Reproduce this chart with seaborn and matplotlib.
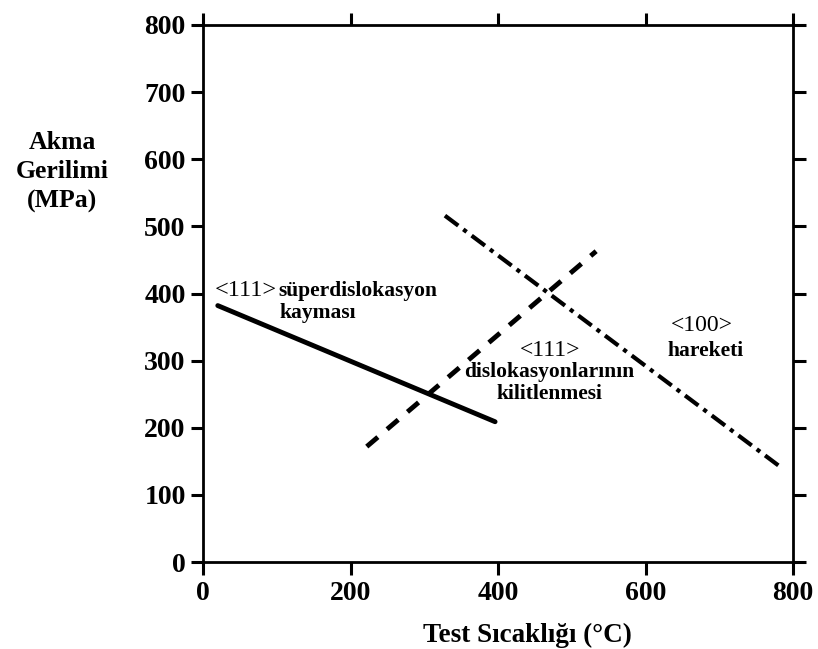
import pandas as pd
import seaborn as sns
import matplotlib.pyplot as plt

# line end points (temperature in C, stress in MPa)
slip_temp = [20, 396]
slip_stress = [382, 209]

lock_temp = [222, 533]
lock_stress = [172, 463]

cube_temp = [328, 780]
cube_stress = [516, 144]

ticks = [0, 200, 400, 600, 800]
yticks = [0, 100, 200, 300, 400, 500, 600, 700, 800]

sns.set_style('ticks')
plt.rcParams['font.family'] = ['Liberation Serif', 'DejaVu Serif']
plt.rcParams['text.color'] = 'black'
plt.rcParams['xtick.color'] = 'black'
plt.rcParams['ytick.color'] = 'black'
plt.rcParams['axes.edgecolor'] = 'black'
plt.rcParams['axes.labelcolor'] = 'black'

fig = plt.figure(figsize=(8.18, 6.49), dpi=100)
ax = fig.add_axes([0.2482, 0.134, 0.7213, 0.8275])

df_slip = pd.DataFrame({'T': slip_temp, 'S': slip_stress})
df_lock = pd.DataFrame({'T': lock_temp, 'S': lock_stress})
df_cube = pd.DataFrame({'T': cube_temp, 'S': cube_stress})

sns.lineplot(data=df_slip, x='T', y='S', ax=ax, color='black', linewidth=3.5)
sns.lineplot(data=df_lock, x='T', y='S', ax=ax, color='black', linewidth=3.5,
             linestyle=(0, (3, 2.5)))
sns.lineplot(data=df_cube, x='T', y='S', ax=ax, color='black', linewidth=3,
             linestyle=(0, (4, 1.5, 1, 1.5)))

ax.set_xlim(0, 800)
ax.set_ylim(0, 800)
ax.set_xticks(ticks)
ax.set_yticks(yticks)
ax.tick_params(axis='both', direction='out', length=9, width=2.2, labelsize=20,
               top=True, right=True, labeltop=False, labelright=False)
ax.tick_params(axis='x', pad=5)
for lab in ax.get_xticklabels() + ax.get_yticklabels():
    lab.set_fontweight('bold')
for sp in ax.spines.values():
    sp.set_visible(True)
    sp.set_linewidth(2)

ax.set_xlabel('Test Sıcaklığı (°C)', fontsize=19.5, fontweight='bold', labelpad=12, x=0.549)
ax.set_ylabel('')
fig.text(0.0758, 0.735, 'Akma\nGerilimi\n(MPa)', ha='center', va='center',
         fontsize=18.5, fontweight='bold', linespacing=1.35)

# region labels
fs = 15.5
ax.text(16, 404, '<111>', fontsize=17.5, va='center', ha='left')
ax.text(102, 404, 'süperdislokasyon', fontsize=fs, fontweight='bold', va='center', ha='left')
ax.text(104, 371, 'kayması', fontsize=fs, fontweight='bold', va='center', ha='left')

ax.text(470, 315, '<111>', fontsize=17, va='center', ha='center')
ax.text(470, 283, 'dislokasyonlarının', fontsize=fs, fontweight='bold', va='center', ha='center')
ax.text(470, 251, 'kilitlenmesi', fontsize=fs, fontweight='bold', va='center', ha='center')

ax.text(677, 352, '<100>', fontsize=17, va='center', ha='center')
ax.text(681, 315, 'hareketi', fontsize=fs, fontweight='bold', va='center', ha='center')

plt.savefig('out.png', dpi=100)
